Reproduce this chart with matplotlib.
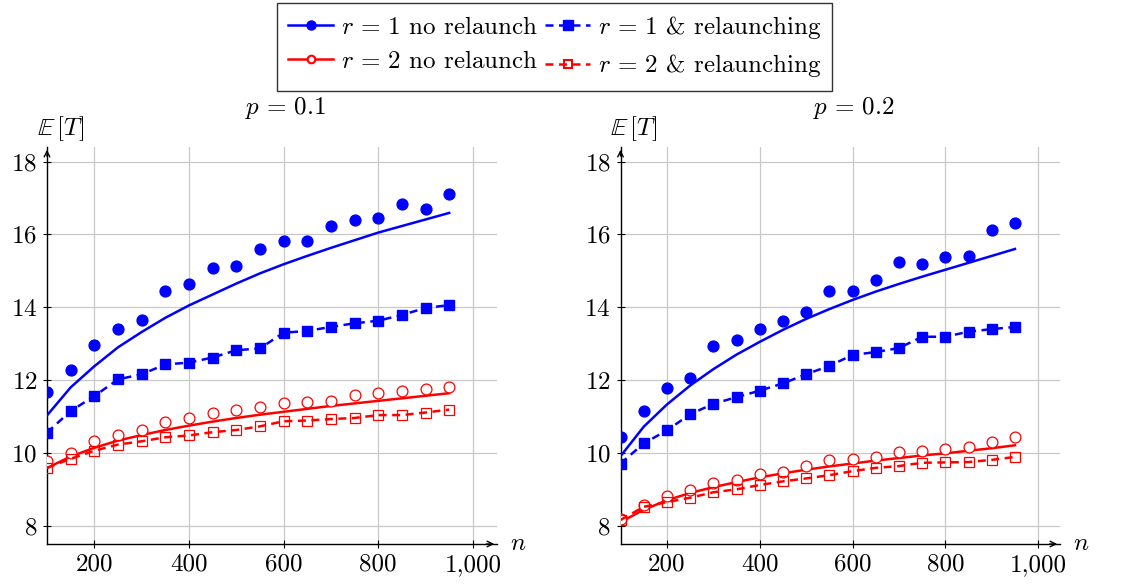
import numpy as np
import matplotlib
matplotlib.use("Agg")
import matplotlib.pyplot as plt
from matplotlib.lines import Line2D
from matplotlib.ticker import FuncFormatter

plt.rcParams['font.family'] = ['cmr10', 'DejaVu Serif']
plt.rcParams['mathtext.fontset'] = 'cm'
plt.rcParams['axes.formatter.use_mathtext'] = True

n = [100, 150, 200, 250, 300, 350, 400, 450, 500, 550, 600, 650, 700, 750, 800, 850, 900, 950]

# p = 0.1
r1_sim_p1 = [11.66, 12.27, 12.96, 13.41, 13.64, 14.44, 14.65, 15.08, 15.13, 15.59, 15.82, 15.83,
             16.24, 16.40, 16.45, 16.84, 16.71, 17.11]
r1_th_p1 = [11.03, 11.80, 12.38, 12.90, 13.32, 13.71, 14.05, 14.35, 14.65, 14.93, 15.18, 15.41,
            15.63, 15.84, 16.05, 16.23, 16.41, 16.59]
r1_rel_p1 = [10.56, 11.15, 11.56, 12.02, 12.16, 12.43, 12.48, 12.62, 12.82, 12.87, 13.30, 13.35,
             13.46, 13.56, 13.63, 13.79, 13.98, 14.06]
r2_sim_p1 = [9.79, 10.00, 10.34, 10.49, 10.64, 10.84, 10.97, 11.11, 11.18, 11.27, 11.37, 11.40,
             11.43, 11.60, 11.65, 11.71, 11.75, 11.80]
r2_th_p1 = [9.59, 9.90, 10.14, 10.34, 10.49, 10.63, 10.75, 10.86, 10.96, 11.05, 11.13, 11.21,
            11.29, 11.36, 11.43, 11.50, 11.57, 11.64]
r2_rel_p1 = [9.59, 9.84, 10.06, 10.23, 10.32, 10.43, 10.48, 10.57, 10.63, 10.73, 10.87, 10.89,
             10.93, 10.96, 11.04, 11.04, 11.11, 11.19]

# p = 0.2
r1_sim_p2 = [10.43, 11.14, 11.77, 12.07, 12.93, 13.11, 13.39, 13.62, 13.86, 14.45, 14.46, 14.75,
             15.25, 15.18, 15.37, 15.42, 16.11, 16.32]
r1_th_p2 = [9.91, 10.72, 11.33, 11.85, 12.30, 12.70, 13.05, 13.38, 13.68, 13.95, 14.20, 14.43,
            14.64, 14.84, 15.03, 15.22, 15.41, 15.60]
r1_rel_p2 = [9.71, 10.26, 10.62, 11.06, 11.35, 11.53, 11.71, 11.91, 12.16, 12.39, 12.69, 12.77,
             12.88, 13.19, 13.19, 13.33, 13.40, 13.46]
r2_sim_p2 = [8.19, 8.56, 8.81, 8.98, 9.18, 9.27, 9.41, 9.49, 9.64, 9.81, 9.84, 9.89,
             10.02, 10.05, 10.12, 10.16, 10.29, 10.44]
r2_th_p2 = [8.10, 8.44, 8.70, 8.90, 9.06, 9.20, 9.33, 9.44, 9.54, 9.63, 9.71, 9.79,
            9.86, 9.93, 9.99, 10.06, 10.13, 10.21]
r2_rel_p2 = [8.16, 8.52, 8.65, 8.77, 8.92, 9.00, 9.12, 9.22, 9.30, 9.39, 9.50, 9.59,
             9.64, 9.73, 9.74, 9.75, 9.81, 9.89]

x_ticks = [200, 400, 600, 800, 1000]
y_ticks = [8, 10, 12, 14, 16, 18]
titles = [r'$p\,=\,0.1$', r'$p\,=\,0.2$']

BLUE = (0, 0, 1)
RED = (1, 0, 0)
FS = 18
LW = 1.8
MS = 7.5
DASH = (0, (3.2, 2.2))

fig = plt.figure(figsize=(11.41, 5.84), dpi=100)
ax1 = fig.add_axes([47 / 1141, 40 / 584, 450 / 1141, 397 / 584])
ax2 = fig.add_axes([620.5 / 1141, 40 / 584, 439.5 / 1141, 397 / 584])

panels = [
    (ax1, 1051, r1_sim_p1, r1_th_p1, r1_rel_p1, r2_sim_p1, r2_th_p1, r2_rel_p1),
    (ax2, 1047, r1_sim_p2, r1_th_p2, r1_rel_p2, r2_sim_p2, r2_th_p2, r2_rel_p2),
]

for i, (ax, xmax, b_sim, b_th, b_rel, r_sim, r_th, r_rel) in enumerate(panels):
    ax.plot(n, b_th, color=BLUE, lw=LW, zorder=3)
    ax.plot(n, b_sim, 'o', color=BLUE, ms=MS + 0.3, zorder=4)
    ax.plot(n, b_rel, color=BLUE, lw=LW, ls=DASH, marker='s', ms=MS, zorder=4)
    ax.plot(n, r_th, color=RED, lw=LW, zorder=3)
    ax.plot(n, r_sim, 'o', color=RED, mfc='white', mec=RED, mew=0.9, ms=MS + 0.3, zorder=4)
    ax.plot(n, r_rel, color=RED, lw=LW, ls=DASH, marker='s', mfc='none', mec=RED, mew=0.9,
            ms=MS, zorder=4)

    ax.set_xlim(100, xmax)
    ax.set_ylim(7.5, 18.4)
    ax.set_xticks(x_ticks)
    ax.set_yticks(y_ticks)
    ax.xaxis.set_major_formatter(FuncFormatter(lambda v, p: f'{int(v):,}'))
    ax.grid(True, color='#c8c8c8', lw=0.9)
    ax.set_axisbelow(True)
    for s in ['top', 'right']:
        ax.spines[s].set_visible(False)
    ax.spines['left'].set_linewidth(1.0)
    ax.spines['bottom'].set_linewidth(1.0)
    ax.tick_params(direction='inout', length=6, width=0.8, labelsize=FS, pad=4)
    ax.patch.set_alpha(0)

    # axis arrows
    ax.annotate('', xy=(1.0, 0), xytext=(0.97, 0), xycoords='axes fraction',
                arrowprops=dict(arrowstyle='->', color='black', lw=1.0), annotation_clip=False)
    ax.annotate('', xy=(0, 1.0), xytext=(0, 0.97), xycoords='axes fraction',
                arrowprops=dict(arrowstyle='->', color='black', lw=1.0), annotation_clip=False)

    ax.text(1.03, 0.0, r'$n$', transform=ax.transAxes, fontsize=FS, ha='left', va='center')
    ax.text(0.03, 1.01, r'$\mathbb{E}\,[T]$', transform=ax.transAxes, fontsize=FS,
            ha='center', va='bottom')
    ax.text(0.53, 1.065, titles[i], transform=ax.transAxes, fontsize=FS, ha='center',
            va='bottom')

handles = [
    Line2D([], [], color=BLUE, lw=LW, marker='o', ms=6.5),
    Line2D([], [], color=RED, lw=LW, marker='o', mfc='white', mec=RED, mew=1.5, ms=5.5),
    Line2D([], [], color=BLUE, lw=LW, ls=DASH, marker='s', ms=6.5),
    Line2D([], [], color=RED, lw=LW, ls=DASH, marker='s', mfc='none', mec=RED, mew=1.5, ms=5.5),
]
labels = [r'$r\,=\,1$ no relaunch', r'$r\,=\,2$ no relaunch',
          r'$r\,=\,1$ & relaunching', r'$r\,=\,2$ & relaunching']
leg = fig.legend(handles, labels, ncol=2, loc='upper center', bbox_to_anchor=(0.486, 0.995),
                 fontsize=FS, frameon=True, fancybox=False, edgecolor='black',
                 handlelength=1.8, handletextpad=0.3, columnspacing=0.3,
                 labelspacing=0.45, borderpad=0.45, borderaxespad=0)
leg.get_frame().set_linewidth(1.0)

fig.savefig('out.png', dpi=100)
